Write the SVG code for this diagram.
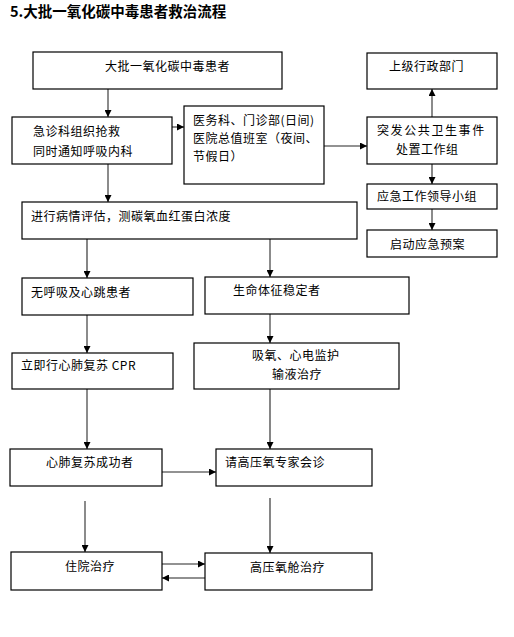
<svg xmlns="http://www.w3.org/2000/svg" width="514" height="637" viewBox="0 0 514 637">
<style>
.bg{fill:#fff}
.box{fill:#fff;stroke:#000;stroke-width:1.2}
.t{font-family:"Noto Sans CJK SC","Liberation Sans",sans-serif;font-size:12px;fill:#000;letter-spacing:0.5px}
.title{font-family:"Noto Sans CJK SC","Liberation Sans",sans-serif;font-size:14.5px;font-weight:bold;fill:#000}
.g{stroke:#6e6e6e;stroke-width:1.6;fill:none}
.k{stroke:#222;stroke-width:1.1;fill:none}
</style>
<defs>
<marker id="ah" markerUnits="userSpaceOnUse" markerWidth="7" markerHeight="7" refX="7" refY="3.5" orient="auto">
<path d="M0,0 L7,3.5 L0,7 z" fill="#000"/>
</marker>
</defs>
<rect class="bg" x="0" y="0" width="514" height="637"/>
<text class="title" x="10" y="16.5">5.大批一氧化碳中毒患者救治流程</text>

<g id="connectors">
<line class="g" x1="108" y1="89" x2="108" y2="117" marker-end="url(#ah)"/>
<line class="g" x1="172" y1="127" x2="184" y2="127" marker-end="url(#ah)"/>
<line class="g" x1="108" y1="164" x2="108" y2="202" marker-end="url(#ah)"/>
<line class="g" x1="324" y1="146" x2="367" y2="146" marker-end="url(#ah)"/>
<line class="g" x1="432" y1="117" x2="432" y2="89" marker-end="url(#ah)"/>
<line class="k" x1="432" y1="164" x2="432" y2="184" marker-end="url(#ah)"/>
<line class="g" x1="432" y1="209" x2="432" y2="230" marker-end="url(#ah)"/>
<line class="k" x1="87" y1="239" x2="87" y2="278" marker-end="url(#ah)"/>
<line class="g" x1="270" y1="239" x2="270" y2="277" marker-end="url(#ah)"/>
<line class="g" x1="87" y1="314" x2="87" y2="353" marker-end="url(#ah)"/>
<line class="g" x1="270" y1="314" x2="270" y2="343" marker-end="url(#ah)"/>
<line class="g" x1="87" y1="389" x2="87" y2="449" marker-end="url(#ah)"/>
<line class="k" x1="270" y1="389" x2="270" y2="449" marker-end="url(#ah)"/>
<line class="g" x1="162" y1="472" x2="216" y2="472" marker-end="url(#ah)"/>
<line class="g" x1="85" y1="501" x2="85" y2="552" marker-end="url(#ah)"/>
<line class="k" x1="270" y1="498" x2="270" y2="553" marker-end="url(#ah)"/>
<line class="g" x1="162" y1="564" x2="205" y2="564" marker-end="url(#ah)"/>
<line class="k" x1="205" y1="578" x2="162" y2="578" marker-end="url(#ah)"/>
</g>

<g id="n1"><rect class="box" x="33" y="52" width="249" height="37"/><text class="t" x="105" y="70.5">大批一氧化碳中毒患者</text></g>
<g id="n2"><rect class="box" x="12" y="117" width="160" height="47"/><text class="t" x="33" y="136">急诊科组织抢救</text><text class="t" x="33" y="156">同时通知呼吸内科</text></g>
<g id="n3"><rect class="box" x="184" y="106" width="140" height="78"/><text class="t" x="193" y="124.5">医务科、门诊部(日间)</text><text class="t" x="193" y="143">医院总值班室（夜间、</text><text class="t" x="193" y="161">节假日）</text></g>
<g id="n4"><rect class="box" x="367" y="53" width="130" height="36"/><text class="t" x="389" y="71">上级行政部门</text></g>
<g id="n5"><rect class="box" x="367" y="117" width="130" height="47"/><text class="t" x="377" y="135" style="letter-spacing:1.6px">突发公共卫生事件</text><text class="t" x="396" y="154">处置工作组</text></g>
<g id="n6"><rect class="box" x="367" y="184" width="130" height="25"/><text class="t" x="377" y="201">应急工作领导小组</text></g>
<g id="n7"><rect class="box" x="367" y="230" width="130" height="27"/><text class="t" x="390" y="248.5">启动应急预案</text></g>
<g id="n8"><rect class="box" x="22" y="202" width="335" height="37"/><text class="t" x="31" y="220.5">进行病情评估，测碳氧血红蛋白浓度</text></g>
<g id="n9"><rect class="box" x="22" y="278" width="171" height="37"/><text class="t" x="31" y="297">无呼吸及心跳患者</text></g>
<g id="n10"><rect class="box" x="205" y="277" width="204" height="37"/><text class="t" x="233" y="294.5">生命体征稳定者</text></g>
<g id="n11"><rect class="box" x="12" y="353" width="161" height="36"/><text class="t" x="21" y="370">立即行心肺复苏 CPR</text></g>
<g id="n12"><rect class="box" x="194" y="343" width="205" height="46"/><text class="t" x="252" y="359.5">吸氧、心电监护</text><text class="t" x="272" y="379">输液治疗</text></g>
<g id="n13"><rect class="box" x="10" y="449" width="152" height="37"/><text class="t" x="46" y="467">心肺复苏成功者</text></g>
<g id="n14"><rect class="box" x="216" y="449" width="156" height="37"/><text class="t" x="225" y="467">请高压氧专家会诊</text></g>
<g id="n15"><rect class="box" x="11" y="552" width="151" height="38"/><text class="t" x="65" y="571">住院治疗</text></g>
<g id="n16"><rect class="box" x="205" y="553" width="167" height="37"/><text class="t" x="250" y="572">高压氧舱治疗</text></g>
</svg>
